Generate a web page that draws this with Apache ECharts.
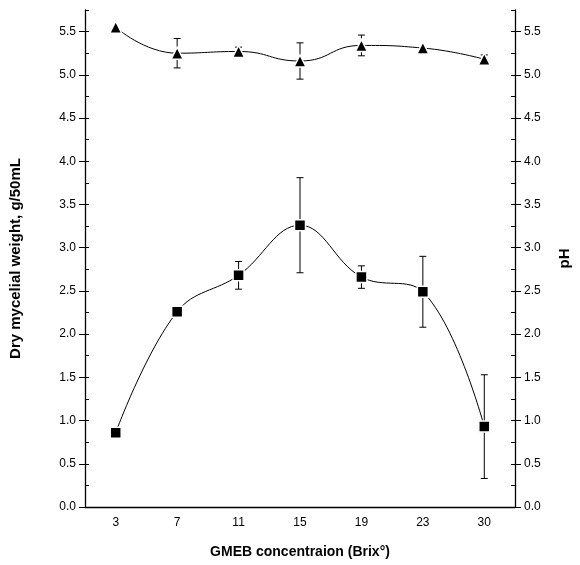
<!DOCTYPE html>
<html>
<head>
<meta charset="utf-8">
<script src="https://cdn.jsdelivr.net/npm/echarts@6/dist/echarts.min.js"></script>
<style>
  html, body { margin: 0; padding: 0; background: #fff; }
  #chart { width: 580px; height: 565px; }
</style>
</head>
<body>
<div id="chart"></div>
<script>
// Brix concentrations
const brix = ['3', '7', '11', '15', '19', '23', '30']
// dry mycelial weight (g/50mL) and its error
const dryWeight = [0.86, 2.26, 2.68, 3.26, 2.66, 2.49, 0.93]
const dryWeightErr = [0, 0, 0.16, 0.55, 0.13, 0.41, 0.6]
// final pH and its error
const ph = [5.55, 5.25, 5.27, 5.16, 5.34, 5.31, 5.18]
const phErr = [0, 0.17, 0.05, 0.21, 0.12, 0, 0.05]

const font = 'Liberation Sans, Arial, Helvetica, sans-serif'

function errorBars (values, errs) {
  return values.map((v, i) => [i, v - errs[i], v + errs[i]])
}

function renderErrorBar (params, api) {
  if (api.value(2) - api.value(1) <= 0) return
  const lo = api.coord([api.value(0), api.value(1)])
  const hi = api.coord([api.value(0), api.value(2)])
  const cap = 3.5
  const style = { stroke: '#000', lineWidth: 1 }
  return {
    type: 'group',
    children: [
      { type: 'line', shape: { x1: lo[0], y1: lo[1], x2: hi[0], y2: hi[1] }, style },
      { type: 'line', shape: { x1: lo[0] - cap, y1: lo[1], x2: lo[0] + cap, y2: lo[1] }, style },
      { type: 'line', shape: { x1: hi[0] - cap, y1: hi[1], x2: hi[0] + cap, y2: hi[1] }, style }
    ]
  }
}

const labelFmt = v => (Math.abs(v * 2 - Math.round(v * 2)) < 1e-6 && v <= 5.5 ? v.toFixed(1) : '')

const labeledY = (pos, name, gap) => ({
  type: 'value',
  position: pos,
  min: 0,
  max: 5.75,
  interval: 0.5,
  name: name,
  nameLocation: 'middle',
  nameGap: gap,
  nameTextStyle: { fontFamily: font, fontWeight: 'bold', fontSize: 15, color: '#000' },
  axisLine: { show: true, lineStyle: { color: '#000', width: 1.3 } },
  axisTick: { show: true, inside: false, length: 6, lineStyle: { color: '#000' } },
  axisLabel: { formatter: labelFmt, showMaxLabel: false, fontFamily: font, fontSize: 12, color: '#000', margin: 9 },
  splitLine: { show: false }
})

const minorY = pos => ({
  type: 'value',
  position: pos,
  min: 0,
  max: 5.75,
  interval: 0.25,
  axisLine: { show: false },
  axisTick: { show: true, inside: true, length: 4, lineStyle: { color: '#000' } },
  axisLabel: { show: false },
  splitLine: { show: false }
})

const option = {
  animation: false,
  backgroundColor: '#fff',
  grid: { left: 81, right: 63, top: 10, bottom: 58 },
  xAxis: [
    {
      type: 'category',
      data: brix,
      boundaryGap: true,
      name: 'GMEB concentraion (Brix°)',
      nameLocation: 'middle',
      nameGap: 38,
      nameTextStyle: { fontFamily: font, fontWeight: 'bold', fontSize: 14, color: '#000' },
      axisLine: { lineStyle: { color: '#000', width: 1.3 } },
      axisTick: { alignWithLabel: true, length: 5, lineStyle: { color: '#000' } },
      axisLabel: { fontFamily: font, fontSize: 12, color: '#000', margin: 10 },
      splitLine: { show: false }
    },
    {
      type: 'category',
      data: brix,
      position: 'bottom',
      boundaryGap: true,
      axisLine: { show: false },
      axisTick: { inside: true, length: 3, lineStyle: { color: '#000' } },
      axisLabel: { show: false }
    }
  ],
  yAxis: [
    labeledY('left', 'Dry mycelial weight, g/50mL', 62),
    labeledY('right', 'pH', 42),
    minorY('left'),
    minorY('right')
  ],
  series: [
    {
      type: 'custom',
      yAxisIndex: 0,
      renderItem: renderErrorBar,
      data: errorBars(dryWeight, dryWeightErr),
      z: 1
    },
    {
      type: 'custom',
      yAxisIndex: 1,
      renderItem: renderErrorBar,
      data: errorBars(ph, phErr),
      z: 1
    },
    {
      name: 'Dry mycelial weight',
      type: 'line',
      yAxisIndex: 0,
      data: dryWeight,
      smooth: 0.4,
      symbol: 'rect',
      symbolSize: 11,
      lineStyle: { color: '#000', width: 1 },
      itemStyle: { color: '#000', borderColor: '#fff', borderWidth: 1.5 },
      z: 3
    },
    {
      name: 'pH',
      type: 'line',
      yAxisIndex: 1,
      data: ph,
      smooth: 0.5,
      symbol: 'triangle',
      symbolSize: 12,
      lineStyle: { color: '#000', width: 1 },
      itemStyle: { color: '#000', borderColor: '#fff', borderWidth: 1.5 },
      z: 3
    }
  ]
}

const myChart = echarts.init(document.getElementById('chart'))
myChart.setOption(option)
</script>
</body>
</html>
